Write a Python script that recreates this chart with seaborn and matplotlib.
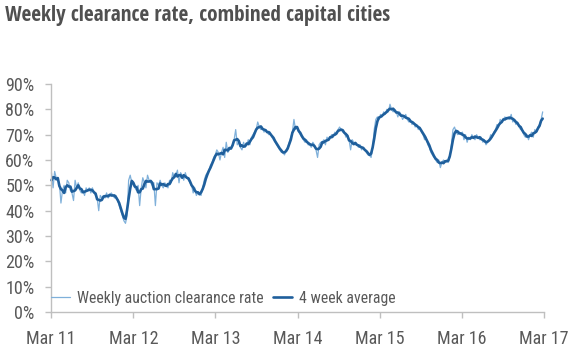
import matplotlib
matplotlib.use("Agg")
import matplotlib.pyplot as plt
import matplotlib.dates as mdates
from matplotlib import font_manager
from matplotlib.font_manager import FontProperties
from matplotlib.textpath import TextPath
import seaborn as sns
import pandas as pd
import numpy as np

# Weekly auction clearance rate (%), one list per year
rate_2011 = [55, 49, 55.5, 53, 52, 51, 43, 48, 50, 47, 52, 51, 48, 47, 44, 52, 49, 51, 48, 47,
             48, 46, 49, 48, 49, 47, 49, 47, 46, 45, 40, 46, 45, 46, 45, 47, 45, 46, 47, 46,
             45, 46, 44, 42, 40, 38, 36, 35, 38, 52, 54, 51]
rate_2012 = [50, 49, 48, 50, 42, 49, 53, 51, 49, 54, 52, 51, 50, 51, 42, 51, 50, 52, 50, 49,
             51, 50, 49, 52, 51, 55, 53, 54, 56, 51, 55, 54, 52, 55, 53, 52, 51, 50, 47, 49,
             46, 47, 47, 46, 49, 52, 54, 55, 56, 58, 59, 61]
rate_2013 = [62, 64, 63, 60, 63, 65, 61, 67, 63, 64, 65, 66, 68, 72, 66, 67, 65, 64, 67, 65,
             66, 68, 66, 69, 70, 71, 72, 75, 73, 72, 73, 71, 72, 71, 70, 71, 69, 68, 67, 66,
             65, 64, 63, 63, 62, 64, 65, 67, 69, 71, 76, 72]
rate_2014 = [73, 71, 70, 69, 68, 67, 68, 66, 66, 65, 67, 66, 64, 61, 66, 67, 67, 68, 66, 69,
             68, 69, 70, 69, 71, 70, 72, 73, 72, 71, 71, 69, 70, 68, 64, 68, 67, 66, 66, 65,
             66, 64, 65, 64, 63, 62, 62, 61, 65, 72, 76, 77]
rate_2015 = [76, 78, 77, 79, 78, 80, 79, 82, 80, 79, 80, 79, 77, 79, 78, 76, 77, 78, 76, 75,
             76, 74, 75, 73, 74, 72, 73, 71, 70, 68, 69, 66, 65, 63, 62, 61, 60, 59, 60, 57,
             59, 60, 59, 60, 59, 61, 66, 72, 73, 71, 70, 71]
rate_2016 = [70, 71, 68, 70, 67, 69, 68, 70, 69, 68, 70, 69, 68, 69, 67, 68, 66, 67, 68, 70,
             69, 71, 72, 74, 73, 76, 75, 76, 77, 76, 77, 76, 78, 75, 76, 74, 75, 73, 72, 72,
             70, 69, 70, 68, 70, 71, 69, 72, 71, 73, 74, 76, 79]

tick_labels = ["Mar 11", "Mar 12", "Mar 13", "Mar 14", "Mar 15", "Mar 16", "Mar 17"]
tick_dates = pd.to_datetime(["2011-03-01", "2012-03-01", "2013-03-01", "2014-03-01",
                             "2015-03-01", "2016-03-01", "2017-03-01"])
y_ticks = [0, 10, 20, 30, 40, 50, 60, 70, 80, 90]
title = "Weekly clearance rate, combined capital cities"
series_names = ["Weekly auction clearance rate", "4 week average"]

weekly = np.array(rate_2011 + rate_2012 + rate_2013 + rate_2014 + rate_2015 + rate_2016, dtype=float)
dates = pd.date_range("2011-03-03", periods=len(weekly), freq="7D")
df = pd.DataFrame({"date": dates, "weekly": weekly})
df["avg4"] = df["weekly"].rolling(4, center=True, min_periods=1).mean()

DPI = 100
installed = {f.name for f in font_manager.fontManager.ttflist}


def pick_narrowest(cands, sample, weight="normal"):
    best, best_w = None, None
    for name in cands:
        if name not in installed:
            continue
        w = TextPath((0, 0), sample, size=10,
                     prop=FontProperties(family=name, weight=weight)).get_extents().width
        if best_w is None or w < best_w:
            best, best_w = name, w
    return best, best_w


cands = ["Liberation Sans Narrow", "Arial Narrow", "DejaVu Sans Condensed", "Roboto Condensed",
         "Open Sans Condensed", "Roboto", "Lato", "Liberation Sans"]


def size_for(sample, target_px, weight="normal"):
    name, w10 = pick_narrowest(cands, sample, weight)
    px10 = w10 * DPI / 72.0
    return name, 10.0 * target_px / px10


title_font, title_size = size_for(title, 383, "bold")
tick_font, tick_size = size_for("Mar 11", 47)
leg_font, leg_size = size_for(series_names[0], 185)
# do not let the fonts grow beyond the reference's letter height
title_size = min(title_size, 18.0)
tick_size = min(tick_size, 13.0)
leg_size = min(leg_size, 12.5)

sns.set_theme(style="white")
plt.rcParams["font.family"] = [tick_font, "DejaVu Sans"]

fig = plt.figure(figsize=(5.8, 3.52), dpi=DPI)
ax = fig.add_axes([0.088, 0.1136, 0.850, 0.6478])

light = "#7fb0da"
dark = "#1f5f9c"
sns.lineplot(data=df, x="date", y="weekly", ax=ax, color=light, linewidth=0.9,
             label=series_names[0], clip_on=False)
sns.lineplot(data=df, x="date", y="avg4", ax=ax, color=dark, linewidth=1.9,
             label=series_names[1], clip_on=False)

ax.set_xlim(tick_dates[0], tick_dates[-1])
ax.set_ylim(0, 90)
ax.set_xticks(tick_dates)
ax.set_xticklabels(tick_labels)
ax.set_yticks(y_ticks)
ax.set_yticklabels([f"{v}%" for v in y_ticks])
ax.set_xlabel("")
ax.set_ylabel("")

txt = "#595959"
spine_c = "#bfbfbf"
for s in ["top", "right"]:
    ax.spines[s].set_visible(False)
for s in ["left", "bottom"]:
    ax.spines[s].set_color(spine_c)
    ax.spines[s].set_linewidth(1.0)
ax.tick_params(axis="both", which="major", direction="out", length=4, width=1.0,
               color=spine_c, labelcolor=txt, labelsize=tick_size, left=True, bottom=True)
ax.tick_params(axis="x", pad=9)
ax.tick_params(axis="y", pad=8)
for lab in ax.get_xticklabels() + ax.get_yticklabels():
    lab.set_family([tick_font, "DejaVu Sans"])

leg = ax.legend(loc="center left", bbox_to_anchor=(0.0, 0.061), ncol=2, frameon=False,
                prop=FontProperties(family=[leg_font, "DejaVu Sans"], size=leg_size),
                handlelength=1.2, handletextpad=0.45, columnspacing=0.6,
                borderaxespad=0, borderpad=0)
for t in leg.get_texts():
    t.set_color(txt)

fig.text(0.009, 0.955, title, fontsize=title_size,
         fontweight="bold", color="#505050", ha="left", va="center",
         family=[title_font, "DejaVu Sans"])

fig.savefig("out.png", dpi=DPI)
